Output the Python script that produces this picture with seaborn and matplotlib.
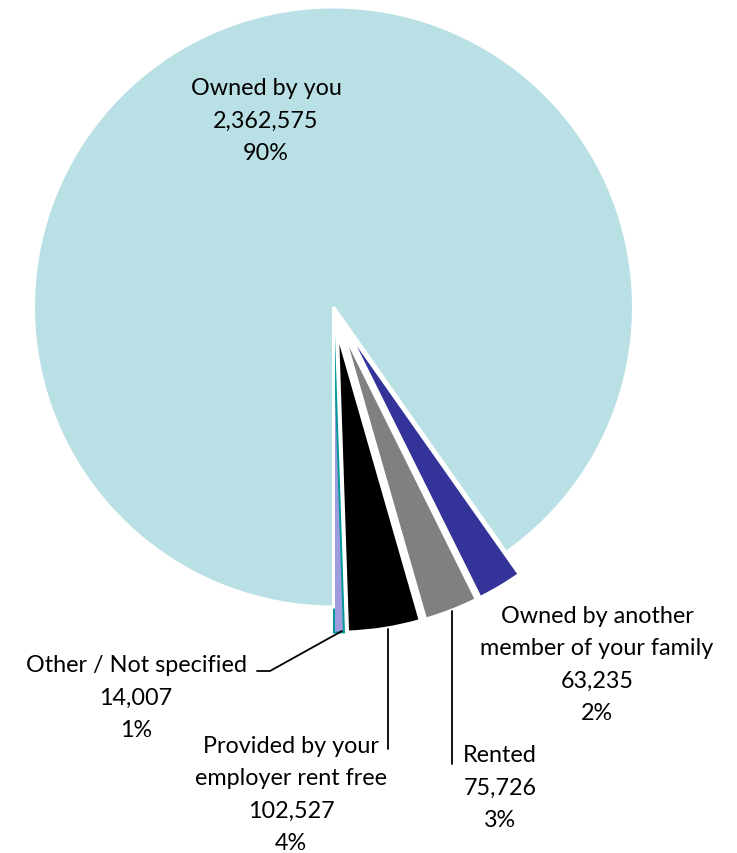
import matplotlib.pyplot as plt
import seaborn as sns

# tenure categories, drawn counter-clockwise from six o'clock
categories = [
    "Other / Not specified",
    "Provided by your\nemployer rent free",
    "Rented",
    "Owned by another\nmember of your family",
    "Owned by you",
]
values = [14007, 102527, 75726, 63235, 2362575]
pct_labels = ["1%", "4%", "3%", "2%", "90%"]
colors = ["#9C9CDE", "#000000", "#808080", "#333399", "#B9E0E4"]
explode = [0.085, 0.085, 0.085, 0.085, 0.0]

# label block centres in pixels of the 737x854 canvas
label_px = [(136, 698), (291, 795), (500, 788), (597, 665), (266, 121)]

sns.set_theme(style="white")
plt.rcParams["font.family"] = ["Lato", "DejaVu Sans"]

W, H = 737, 854
CX, CY, R = 333.5, 308.0, 300.0


def px(x, y):
    # pixel -> data (pie radius 1 == R pixels)
    return (x - CX) / R, (CY - y) / R


fig = plt.figure(figsize=(W / 100, H / 100), dpi=100)
ax = fig.add_axes([0, 0, 1, 1])

wedges, _ = ax.pie(
    values,
    colors=colors,
    explode=explode,
    startangle=270,
    counterclock=True,
    wedgeprops=dict(edgecolor="white", linewidth=2.2),
)
wedges[0].set_edgecolor("#009999")
wedges[0].set_linewidth(1.4)

for cat, val, pct, (lx, ly) in zip(categories, values, pct_labels, label_px):
    x, y = px(lx, ly)
    ax.text(x, y, f"{cat}\n{val:,}\n{pct}", ha="center", va="center",
            fontsize=16.8, linespacing=1.65, color="black")

# leader lines
leaders = [
    [(257, 672), (270, 672), (342, 632)],
    [(388, 630), (388, 750)],
    [(452, 612), (452, 765)],
]
for pts in leaders:
    xs, ys = zip(*[px(a, b) for a, b in pts])
    ax.plot(xs, ys, color="black", linewidth=1.3)

ax.set_xlim(px(0, 0)[0], px(W, 0)[0])
ax.set_ylim(px(0, H)[1], px(0, 0)[1])
ax.set_aspect("auto")
ax.axis("off")

fig.savefig("out.png", dpi=100, facecolor="white")
